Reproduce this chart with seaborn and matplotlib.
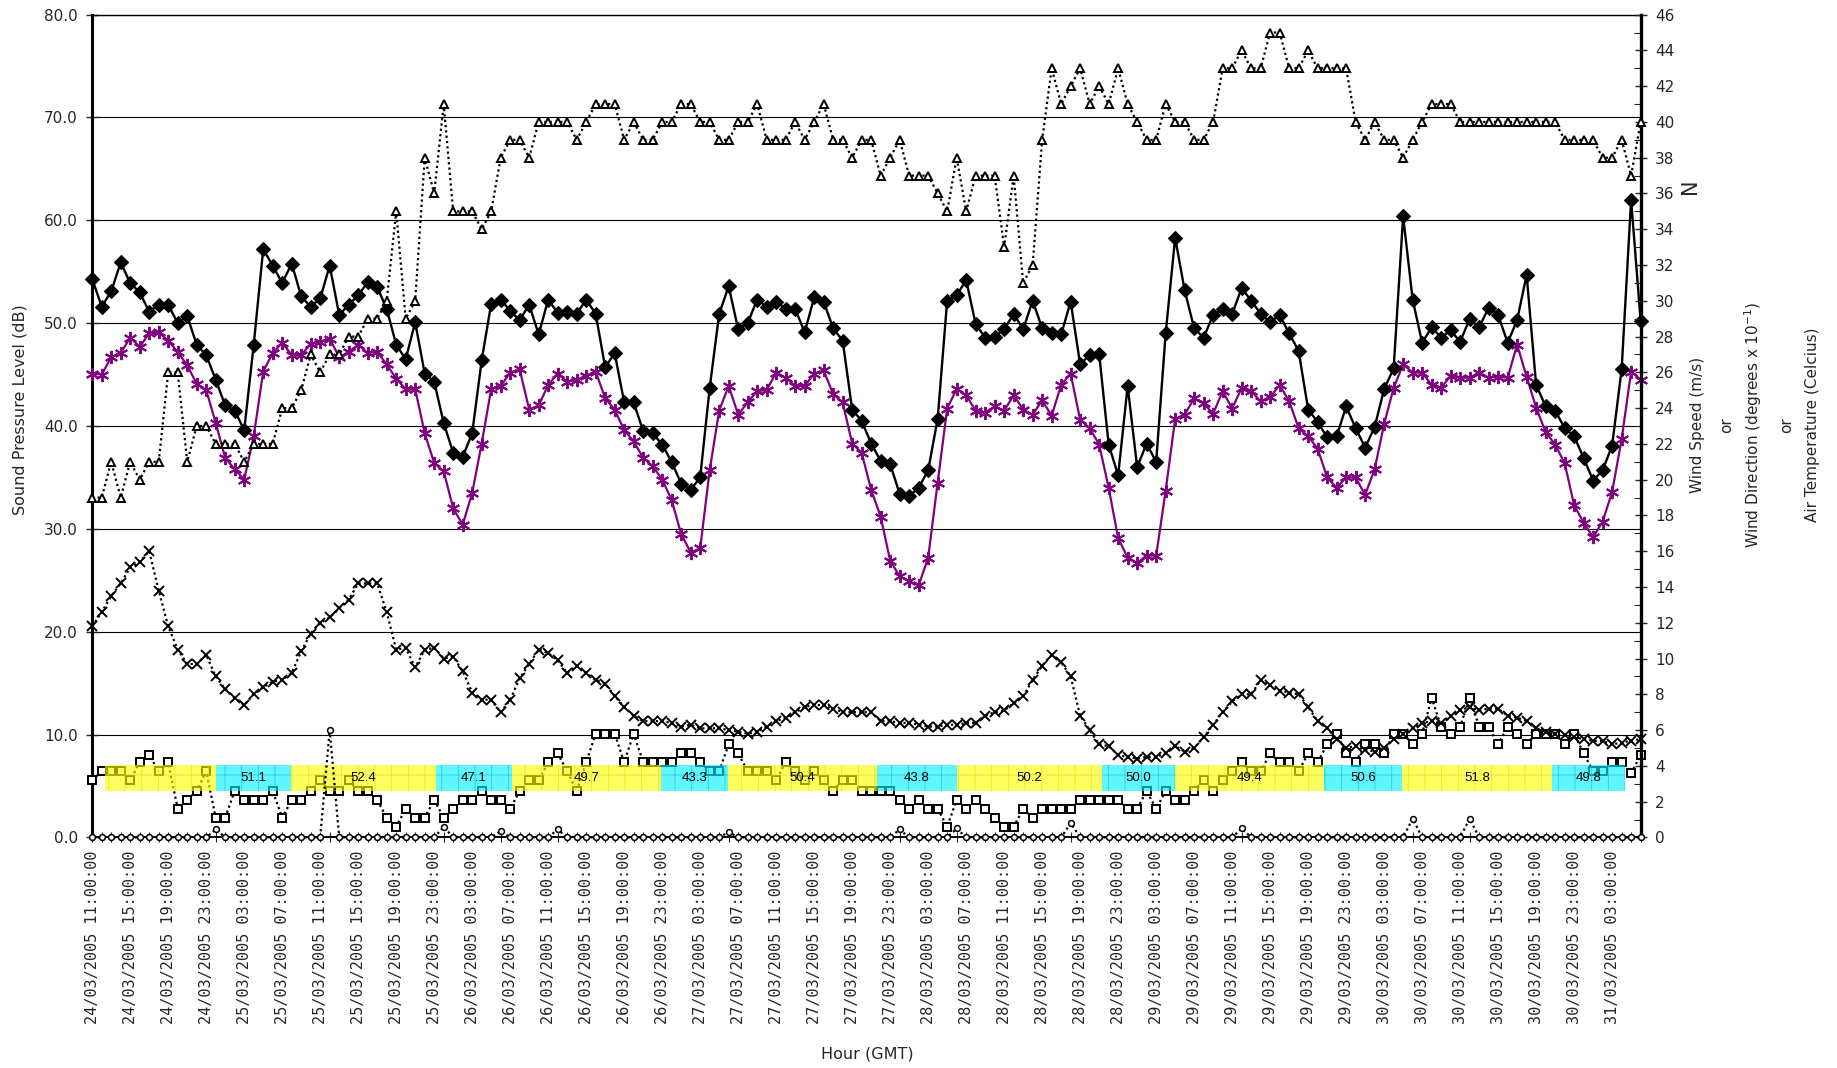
import numpy as np
import pandas as pd
import matplotlib
matplotlib.use("Agg")
import matplotlib.pyplot as plt
from matplotlib.ticker import MultipleLocator, FormatStrFormatter
import seaborn as sns

# -----------------------------
# DATA (hourly)
# -----------------------------
start_time = "2005-03-24 11:00"

# sound pressure level, black diamonds (dB)
spl = [54.3, 51.6, 53.1, 55.9, 53.9, 53.0, 51.1, 51.8, 51.8, 50.0,
       50.7, 47.9, 46.9, 44.5, 42.0, 41.5, 39.6, 47.9, 57.2, 55.6,
       53.9, 55.8, 52.6, 51.6, 52.4, 55.6, 50.8, 51.8, 52.7, 54.0,
       53.5, 51.4, 47.9, 46.5, 50.1, 45.1, 44.3, 40.3, 37.4, 37.0,
       39.3, 46.4, 51.9, 52.3, 51.2, 50.3, 51.8, 48.9, 52.3, 51.0,
       51.1, 50.9, 52.3, 50.9, 45.7, 47.1, 42.3, 42.3, 39.5, 39.3,
       38.2, 36.5, 34.4, 33.8, 35.0, 43.7, 50.9, 53.6, 49.4, 50.0,
       52.3, 51.6, 52.1, 51.4, 51.4, 49.1, 52.5, 52.1, 49.5, 48.3,
       41.6, 40.5, 38.3, 36.6, 36.3, 33.4, 33.2, 34.0, 35.7, 40.7,
       52.2, 52.7, 54.2, 49.9, 48.6, 48.7, 49.4, 50.9, 49.4, 52.2,
       49.5, 49.0, 48.9, 52.1, 46.0, 46.9, 47.0, 38.2, 35.2, 43.9,
       36.0, 38.3, 36.5, 49.0, 58.3, 53.2, 49.5, 48.6, 50.8, 51.4,
       50.9, 53.4, 52.2, 50.9, 50.1, 50.8, 49.0, 47.3, 41.6, 40.4,
       38.9, 39.0, 41.9, 39.8, 37.9, 39.9, 43.6, 45.6, 60.4, 52.3,
       48.1, 49.6, 48.6, 49.3, 48.2, 50.4, 49.6, 51.5, 50.8, 48.1,
       50.3, 54.7, 44.0, 41.9, 41.5, 39.8, 39.0, 36.9, 34.7, 35.7,
       38.1, 45.5, 62.0, 50.2]

# background level, purple asterisks (dB)
l90 = [45.1, 45.0, 46.7, 47.1, 48.6, 47.7, 49.0, 49.1, 48.3, 47.2,
       45.9, 44.1, 43.5, 40.3, 36.9, 35.8, 34.8, 39.0, 45.3, 47.1,
       48.1, 46.9, 46.9, 48.0, 48.2, 48.5, 46.7, 47.2, 47.9, 47.1,
       47.2, 46.0, 44.6, 43.6, 43.6, 39.3, 36.4, 35.6, 32.0, 30.4,
       33.5, 38.3, 43.6, 43.9, 45.2, 45.5, 41.6, 42.0, 44.0, 45.1,
       44.3, 44.5, 44.9, 45.3, 42.7, 41.6, 39.6, 38.5, 36.9, 36.1,
       34.8, 32.8, 29.5, 27.7, 28.1, 35.7, 41.5, 43.9, 41.1, 42.3,
       43.4, 43.5, 45.2, 44.7, 43.9, 43.9, 45.1, 45.4, 43.1, 42.3,
       38.3, 37.4, 33.8, 31.2, 26.9, 25.4, 24.9, 24.5, 27.2, 34.5,
       41.7, 43.6, 43.0, 41.5, 41.3, 41.9, 41.5, 43.0, 41.6, 41.1,
       42.5, 41.0, 44.0, 45.1, 40.6, 39.8, 38.2, 34.0, 29.1, 27.2,
       26.7, 27.4, 27.4, 33.7, 40.7, 41.1, 42.7, 42.2, 41.2, 43.4,
       41.7, 43.7, 43.4, 42.4, 42.8, 44.0, 42.4, 39.8, 39.0, 37.8,
       35.0, 34.0, 35.0, 35.0, 33.3, 35.8, 40.2, 43.7, 46.0, 45.2,
       45.2, 44.0, 43.7, 44.9, 44.7, 44.7, 45.2, 44.7, 44.8, 44.7,
       47.9, 44.8, 41.8, 39.4, 38.2, 36.4, 32.3, 30.6, 29.2, 30.7,
       33.6, 38.7, 45.3, 44.5]

# wind direction (degrees x 0.1), open triangles
wind_dir = [19, 19, 21, 19, 21, 20, 21, 21, 26, 26,
            21, 23, 23, 22, 22, 22, 21, 22, 22, 22,
            24, 24, 25, 27, 26, 27, 27, 28, 28, 29,
            29, 30, 35, 29, 30, 38, 36, 41, 35, 35,
            35, 34, 35, 38, 39, 39, 38, 40, 40, 40,
            40, 39, 40, 41, 41, 41, 39, 40, 39, 39,
            40, 40, 41, 41, 40, 40, 39, 39, 40, 40,
            41, 39, 39, 39, 40, 39, 40, 41, 39, 39,
            38, 39, 39, 37, 38, 39, 37, 37, 37, 36,
            35, 38, 35, 37, 37, 37, 33, 37, 31, 32,
            39, 43, 41, 42, 43, 41, 42, 41, 43, 41,
            40, 39, 39, 41, 40, 40, 39, 39, 40, 43,
            43, 44, 43, 43, 45, 45, 43, 43, 44, 43,
            43, 43, 43, 40, 39, 40, 39, 39, 38, 39,
            40, 41, 41, 41, 40, 40, 40, 40, 40, 40,
            40, 40, 40, 40, 40, 39, 39, 39, 39, 38,
            38, 39, 37, 40]

# air temperature (C), x markers
air_temp = [11.8, 12.6, 13.5, 14.2, 15.1, 15.4, 16.0, 13.8, 11.8, 10.5,
            9.7, 9.7, 10.2, 9.0, 8.3, 7.8, 7.4, 8.0, 8.4, 8.7,
            8.8, 9.2, 10.4, 11.4, 12.0, 12.3, 12.8, 13.3, 14.2, 14.2,
            14.2, 12.6, 10.5, 10.6, 9.5, 10.5, 10.6, 10.0, 10.1, 9.3,
            8.1, 7.7, 7.7, 7.0, 7.7, 8.9, 9.7, 10.5, 10.3, 9.9,
            9.2, 9.6, 9.2, 8.8, 8.6, 7.9, 7.3, 6.8, 6.5, 6.5,
            6.5, 6.4, 6.2, 6.3, 6.1, 6.1, 6.1, 6.0, 5.9, 5.8,
            5.9, 6.2, 6.5, 6.7, 7.0, 7.3, 7.4, 7.4, 7.2, 7.0,
            7.0, 7.0, 7.0, 6.5, 6.5, 6.4, 6.4, 6.3, 6.2, 6.2,
            6.3, 6.3, 6.4, 6.4, 6.8, 7.0, 7.1, 7.5, 7.9, 8.8,
            9.6, 10.2, 9.8, 9.0, 6.8, 6.0, 5.2, 5.1, 4.6, 4.5,
            4.4, 4.5, 4.5, 4.7, 5.1, 4.8, 5.0, 5.6, 6.3, 7.0,
            7.6, 8.0, 8.0, 8.8, 8.5, 8.2, 8.1, 8.0, 7.3, 6.5,
            6.1, 5.5, 5.0, 5.1, 4.9, 4.8, 5.0, 5.5, 5.8, 6.1,
            6.4, 6.5, 6.4, 6.8, 7.1, 7.3, 7.1, 7.2, 7.2, 6.8,
            6.7, 6.5, 6.1, 5.9, 5.8, 5.7, 5.6, 5.5, 5.4, 5.4,
            5.2, 5.3, 5.4, 5.5]

# wind speed (m/s), open squares
wind_speed = [3.2, 3.7, 3.7, 3.7, 3.2, 4.2, 4.6, 3.7, 4.2, 1.6,
              2.1, 2.6, 3.7, 1.1, 1.1, 2.6, 2.1, 2.1, 2.1, 2.6,
              1.1, 2.1, 2.1, 2.6, 3.2, 2.6, 2.6, 3.2, 2.6, 2.6,
              2.1, 1.1, 0.6, 1.6, 1.1, 1.1, 2.1, 1.1, 1.6, 2.1,
              2.1, 2.6, 2.1, 2.1, 1.6, 2.6, 3.2, 3.2, 4.2, 4.7,
              3.7, 2.6, 4.2, 5.8, 5.8, 5.8, 4.2, 5.8, 4.2, 4.2,
              4.2, 4.2, 4.7, 4.7, 4.2, 3.7, 3.7, 5.2, 4.7, 3.7,
              3.7, 3.7, 3.2, 4.2, 3.7, 3.2, 3.7, 3.2, 2.6, 3.2,
              3.2, 2.6, 2.6, 2.6, 2.6, 2.1, 1.6, 2.1, 1.6, 1.6,
              0.6, 2.1, 1.6, 2.1, 1.6, 1.1, 0.6, 0.6, 1.6, 1.1,
              1.6, 1.6, 1.6, 1.6, 2.1, 2.1, 2.1, 2.1, 2.1, 1.6,
              1.6, 2.6, 1.6, 2.6, 2.1, 2.1, 2.6, 3.2, 2.6, 3.2,
              3.7, 4.2, 3.7, 3.7, 4.7, 4.2, 4.2, 3.7, 4.7, 4.2,
              5.2, 5.8, 4.7, 4.2, 5.2, 5.2, 4.7, 5.8, 5.8, 5.2,
              5.8, 7.8, 6.2, 5.8, 6.2, 7.8, 6.2, 6.2, 5.2, 6.2,
              5.8, 5.2, 5.8, 5.8, 5.8, 5.2, 5.8, 4.7, 3.7, 3.7,
              4.2, 4.2, 3.6, 4.6]

# rainfall, open circles (mostly zero)
rain = [0, 0, 0, 0, 0, 0, 0, 0, 0, 0,
        0, 0, 0, 0.45, 0, 0, 0, 0, 0, 0,
        0, 0, 0, 0, 0, 6.0, 0, 0, 0, 0,
        0, 0, 0, 0, 0, 0, 0, 0.6, 0, 0,
        0, 0, 0, 0.35, 0, 0, 0, 0, 0, 0.45,
        0, 0, 0, 0, 0, 0, 0, 0, 0, 0,
        0, 0, 0, 0, 0, 0, 0, 0.3, 0, 0,
        0, 0, 0, 0, 0, 0, 0, 0, 0, 0,
        0, 0, 0, 0, 0, 0.45, 0, 0, 0, 0,
        0, 0.5, 0, 0, 0, 0, 0, 0, 0, 0,
        0, 0, 0, 0.8, 0, 0, 0, 0, 0, 0,
        0, 0, 0, 0, 0, 0, 0, 0, 0, 0,
        0, 0.5, 0, 0, 0, 0, 0, 0, 0, 0,
        0, 0, 0, 0, 0, 0, 0, 0, 0, 1.05,
        0, 0, 0, 0, 0, 1.05, 0, 0, 0, 0,
        0, 0, 0, 0, 0, 0, 0, 0, 0, 0,
        0, 0, 0, 0]

# day / night periods (hours from first sample) and their Leq
period_start = [1.3, 13.0, 20.9, 36.2, 44.2, 59.9, 66.9,
                82.6, 91.0, 106.3, 114.0, 129.7, 137.9, 153.7]
period_end = [13.0, 20.9, 36.2, 44.2, 59.9, 66.9, 82.6,
              91.0, 106.3, 114.0, 129.7, 137.9, 153.7, 161.4]
period_kind = ["day", "night", "day", "night", "day", "night", "day",
               "night", "day", "night", "day", "night", "day", "night"]
period_leq = ["", "51.1", "52.4", "47.1", "49.7", "43.3", "50.4",
              "43.8", "50.2", "50.0", "49.4", "50.6", "51.8", "49.8"]

# -----------------------------
# BUILD TABLE
# -----------------------------
n = len(spl)
times = pd.date_range(start_time, periods=n, freq="h")
df = pd.DataFrame({
    "idx": np.arange(n),
    "spl": spl,
    "l90": l90,
    "wind_dir": wind_dir,
    "air_temp": air_temp,
    "wind_speed": wind_speed,
    "rain": rain,
})
tick_labels = [t.strftime("%d/%m/%Y %H:%M:%S") for t in times]

bands = pd.DataFrame({
    "start": period_start,
    "end": period_end,
    "kind": period_kind,
    "leq": period_leq,
})

# -----------------------------
# STYLE
# -----------------------------
sns.set_theme(style="white")
plt.rcParams["font.family"] = ["DejaVu Sans"]
plt.rcParams["hatch.linewidth"] = 0.6

LEFT_MAX, RIGHT_MAX = 80, 46
to_right = RIGHT_MAX / LEFT_MAX
DOT = (0, (1.0, 1.4))

fig = plt.figure(figsize=(18.37, 10.68), dpi=100, facecolor="white")
ax = fig.add_axes([0.0502, 0.2159, 0.8429, 0.7704])
ax2 = ax.twinx()

# ── left axis: sound levels ─────────────────────────
sns.lineplot(data=df, x="idx", y="l90", ax=ax, color="#800080",
             linewidth=1.6, marker=(6, 2, 0), markersize=9.5,
             markeredgecolor="#800080", markeredgewidth=1.4,
             clip_on=False, zorder=3, legend=False, errorbar=None)
sns.lineplot(data=df, x="idx", y="spl", ax=ax, color="black",
             linewidth=1.7, marker="D", markersize=7.2,
             markeredgecolor="black", markerfacecolor="black",
             markeredgewidth=0.8, clip_on=False, zorder=4,
             legend=False, errorbar=None)

# ── right axis: weather ─────────────────────────────
sns.lineplot(data=df, x="idx", y="wind_speed", ax=ax2, color="black",
             linewidth=1.6, linestyle=DOT, marker="s", markersize=5.8,
             markerfacecolor="white", markeredgecolor="black",
             markeredgewidth=1.4, clip_on=False, zorder=2,
             legend=False, errorbar=None)

band_lo, band_hi = 4.5 * to_right, 7.0 * to_right
band_colors = {"day": "#FFFF00", "night": "#00F0FF"}
hatch_colors = {"day": "#D8D800", "night": "#00B8D0"}
for _, b in bands.iterrows():
    ax2.bar(b["start"], band_hi - band_lo, bottom=band_lo,
            width=b["end"] - b["start"], align="edge",
            color=band_colors[b["kind"]], alpha=0.62, hatch="+",
            edgecolor=hatch_colors[b["kind"]], linewidth=0, zorder=3)
    if b["leq"]:
        ax2.text((b["start"] + b["end"]) / 2, (band_lo + band_hi) / 2,
                 b["leq"], ha="center", va="center", fontsize=9.5,
                 family=["Liberation Sans"], color="black", zorder=4)

sns.lineplot(data=df, x="idx", y="rain", ax=ax2, color="black",
             linewidth=1.6, linestyle=DOT, marker="o", markersize=4.2,
             markerfacecolor="white", markeredgecolor="black",
             markeredgewidth=1.1, clip_on=False, zorder=5,
             legend=False, errorbar=None)
sns.lineplot(data=df, x="idx", y="air_temp", ax=ax2, color="black",
             linewidth=1.6, linestyle=DOT, marker="x", markersize=6.5,
             markeredgecolor="black", markeredgewidth=1.4,
             clip_on=False, zorder=5, legend=False, errorbar=None)
sns.lineplot(data=df, x="idx", y="wind_dir", ax=ax2, color="black",
             linewidth=1.6, linestyle=DOT, marker="^", markersize=6.2,
             markerfacecolor="white", markeredgecolor="black",
             markeredgewidth=1.4, clip_on=False, zorder=5,
             legend=False, errorbar=None)

# ── axes ────────────────────────────────────────────
ax.set_xlim(0, n - 1)
ax.set_ylim(0, LEFT_MAX)
ax2.set_ylim(0, RIGHT_MAX)

ax.yaxis.set_major_locator(MultipleLocator(10))
ax.yaxis.set_major_formatter(FormatStrFormatter("%.1f"))
ax.yaxis.grid(True, color="black", linewidth=0.8)
ax.set_axisbelow(True)

ax.set_xticks(df["idx"][::4])
ax.set_xticklabels(tick_labels[::4], rotation=90, fontsize=11,
                   family=["DejaVu Sans Mono"])
ax.set_xticks(df["idx"], minor=True)
ax.tick_params(axis="x", which="both", direction="inout", length=7,
               width=0.8, pad=6, bottom=True)
ax.tick_params(axis="y", which="major", direction="inout", length=9,
               width=1.0, pad=6, labelsize=11, left=True)

ax2.yaxis.set_major_locator(MultipleLocator(2))
ax2.yaxis.set_minor_locator(MultipleLocator(1))
ax2.yaxis.set_major_formatter(FormatStrFormatter("%d"))
ax2.tick_params(axis="y", which="major", direction="inout", length=9,
                width=1.0, pad=6, labelsize=11, right=True)
ax2.tick_params(axis="y", which="minor", direction="in", length=5,
                width=0.8, right=True)
ax2.grid(False)

for a in (ax, ax2):
    a.set_xlabel("")
    a.set_ylabel("")
ax.spines["right"].set_visible(False)
ax.spines["left"].set_linewidth(2.2)
ax.spines["bottom"].set_linewidth(1.4)
ax.spines["top"].set_linewidth(1.0)
for s in ("left", "top", "bottom"):
    ax2.spines[s].set_visible(False)
ax2.spines["right"].set_linewidth(2.4)
for a in (ax, ax2):
    for s in a.spines.values():
        s.set_color("black")

# ── titles ──────────────────────────────────────────
fig.text(0.0109, 0.616, "Sound Pressure Level (dB)", rotation=90,
         ha="center", va="center", fontsize=11.5)
fig.text(0.472, 0.013, "Hour (GMT)", ha="center", va="center",
         fontsize=11.5)
fig.text(0.920, 0.826, "N", rotation=90, ha="center", va="center",
         fontsize=15)
right_titles = [
    (0.9238, "Wind Speed (m/s)"),
    (0.9401, "or"),
    (0.9543, r"Wind Direction (degrees x 10$^{-1}$)"),
    (0.9728, "or"),
    (0.9869, "Air Temperature (Celcius)"),
]
for x, txt in right_titles:
    fig.text(x, 0.602, txt, rotation=90, ha="center", va="center",
             fontsize=11)

plt.savefig("out.png", dpi=100, facecolor="white")
